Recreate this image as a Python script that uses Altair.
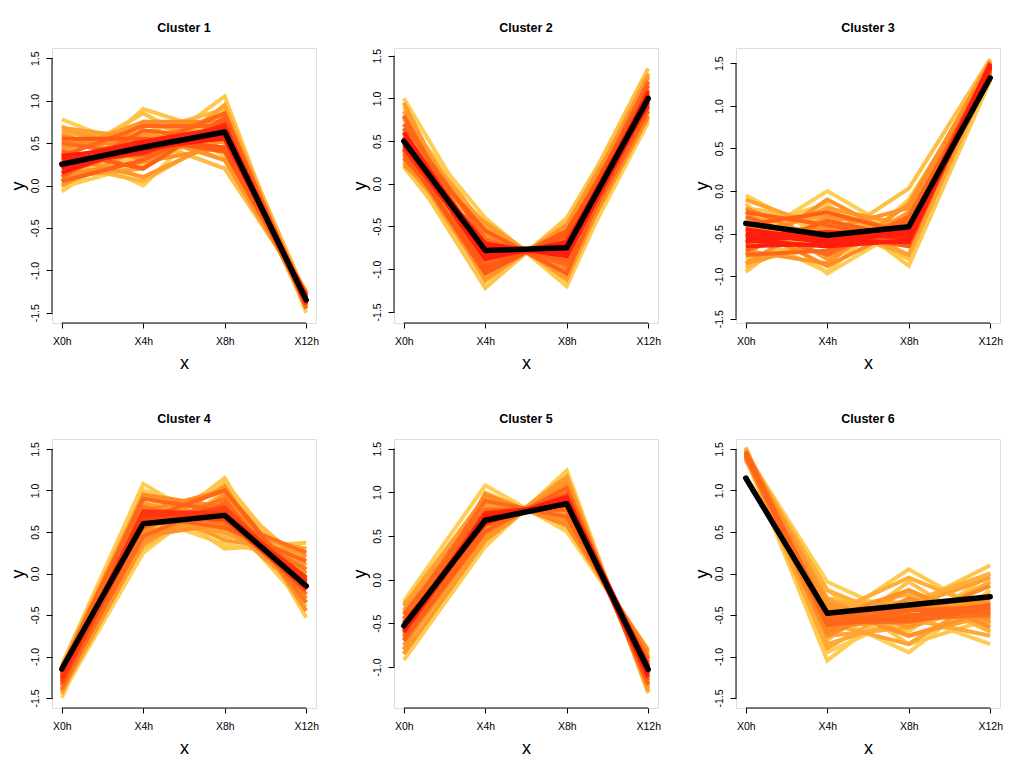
import altair as alt
import pandas as pd

FONT = "Liberation Sans"
times = ["X0h", "X4h", "X8h", "X12h"]

# ---- Cluster 1 ----
c1_profiles = [
    [0.78, 0.40, 0.55, -1.30], [0.70, 0.20, 0.75, -1.40], [-0.07, 0.55, 0.45, -1.25],
    [0.05, 0.90, 0.60, -1.45], [0.30, 0.85, 0.35, -1.30], [0.45, 0.00, 0.95, -1.35],
    [0.15, 0.35, 1.05, -1.50], [0.55, 0.55, 0.20, -1.25], [-0.02, 0.25, 0.85, -1.40],
    [0.60, 0.62, 0.90, -1.30], [0.25, 0.05, 0.60, -1.35],
    [0.65, 0.45, 0.65, -1.28], [0.00, 0.45, 0.70, -1.42], [0.40, 0.75, 0.50, -1.33],
    [0.60, 0.30, 0.70, -1.30], [0.10, 0.20, 0.95, -1.45], [0.45, 0.60, 0.30, -1.27],
    [0.05, 0.75, 0.75, -1.40], [0.35, 0.10, 0.55, -1.32], [0.50, 0.50, 0.85, -1.38],
    [0.20, 0.65, 0.30, -1.30], [0.68, 0.55, 0.40, -1.26], [0.12, 0.28, 0.45, -1.36],
    [0.50, 0.35, 0.60, -1.32], [0.10, 0.65, 0.55, -1.40], [0.40, 0.20, 0.80, -1.35],
    [0.20, 0.55, 0.40, -1.28], [0.35, 0.70, 0.70, -1.42], [0.05, 0.30, 0.75, -1.38],
    [0.55, 0.55, 0.45, -1.30], [0.15, 0.45, 0.85, -1.45],
    [0.30, 0.40, 0.65, -1.35], [0.20, 0.50, 0.60, -1.33], [0.35, 0.45, 0.55, -1.30],
    [0.25, 0.38, 0.72, -1.40], [0.15, 0.48, 0.62, -1.36], [0.32, 0.52, 0.68, -1.34],
    [0.22, 0.42, 0.58, -1.32],
]
c1_mem = [0.30, 0.32, 0.31, 0.33, 0.34, 0.30, 0.32, 0.35, 0.31, 0.36, 0.37,
          0.42, 0.44, 0.43, 0.46, 0.41, 0.45, 0.47, 0.44, 0.48, 0.43, 0.42, 0.46,
          0.55, 0.58, 0.60, 0.62, 0.56, 0.59, 0.63, 0.57,
          0.78, 0.82, 0.80, 0.76, 0.84, 0.79, 0.86]
c1_centroid = [0.25, 0.45, 0.63, -1.35]

# ---- Cluster 2 ----
c2_profiles = [
    [1.00, -0.60, -1.00, 1.10], [0.20, -1.00, -0.55, 0.75], [0.75, -0.40, -1.20, 0.90],
    [0.30, -1.22, -0.40, 1.20], [0.90, -1.10, -0.50, 1.35], [0.25, -0.50, -1.10, 0.72],
    [0.60, -1.15, -0.45, 0.80], [0.45, -0.45, -1.15, 1.30],
    [0.85, -0.70, -0.90, 1.25], [0.25, -0.85, -0.75, 0.80], [0.95, -0.95, -0.62, 1.28],
    [0.22, -0.60, -0.98, 0.78], [0.70, -0.50, -1.10, 1.00], [0.38, -1.12, -0.48, 1.15],
    [0.58, -0.58, -1.00, 0.85], [0.40, -0.98, -0.58, 1.25], [0.78, -1.05, -0.55, 0.95],
    [0.28, -0.45, -1.12, 1.02], [0.62, -0.92, -0.66, 1.18], [0.33, -0.68, -0.92, 0.88],
    [0.70, -0.65, -0.95, 1.05], [0.35, -0.95, -0.65, 0.90], [0.55, -0.55, -1.05, 1.15],
    [0.40, -1.05, -0.55, 0.95], [0.80, -0.90, -0.70, 1.20], [0.30, -0.70, -0.90, 0.85],
    [0.65, -1.00, -0.60, 1.10],
    [0.50, -0.75, -0.80, 1.00], [0.55, -0.85, -0.70, 1.05], [0.45, -0.70, -0.85, 0.95],
    [0.60, -0.80, -0.78, 1.02], [0.42, -0.82, -0.72, 0.98], [0.52, -0.72, -0.82, 1.08],
    [0.48, -0.88, -0.68, 0.92],
]
c2_mem = [0.30, 0.32, 0.31, 0.33, 0.34, 0.30, 0.35, 0.32,
          0.42, 0.44, 0.43, 0.46, 0.41, 0.45, 0.47, 0.44, 0.48, 0.43, 0.42, 0.46,
          0.55, 0.58, 0.60, 0.62, 0.56, 0.59, 0.63,
          0.80, 0.78, 0.82, 0.85, 0.76, 0.79, 0.83]
c2_centroid = [0.50, -0.78, -0.75, 1.00]

# ---- Cluster 3 ----
c3_profiles = [
    [-0.05, -0.55, -0.30, 1.45], [-0.15, -0.97, -0.40, 1.40], [-0.95, -0.20, -0.50, 1.35],
    [-0.60, 0.00, -0.55, 1.50], [-0.45, -0.15, -0.88, 1.30], [-0.80, -0.60, 0.03, 1.55],
    [-0.50, -0.95, -0.10, 1.40], [-0.90, -0.45, -0.35, 1.45], [-0.20, -0.35, -0.80, 1.35],
    [-0.10, -0.45, -0.40, 1.42], [-0.85, -0.30, -0.45, 1.40], [-0.25, -0.80, -0.25, 1.47],
    [-0.75, -0.10, -0.60, 1.52], [-0.35, -0.30, -0.75, 1.38], [-0.70, -0.85, -0.15, 1.50],
    [-0.20, -0.60, -0.55, 1.44], [-0.85, -0.60, -0.50, 1.46], [-0.40, -0.88, -0.40, 1.43],
    [-0.55, -0.20, -0.40, 1.48], [-0.65, -0.40, -0.75, 1.41], [-0.45, -0.45, -0.20, 1.53],
    [-0.30, -0.65, -0.45, 1.45], [-0.70, -0.35, -0.55, 1.48], [-0.45, -0.75, -0.30, 1.42],
    [-0.60, -0.50, -0.65, 1.50], [-0.25, -0.40, -0.60, 1.40], [-0.75, -0.70, -0.35, 1.47],
    [-0.40, -0.25, -0.50, 1.44],
    [-0.55, -0.55, -0.50, 1.47], [-0.50, -0.60, -0.45, 1.45], [-0.60, -0.50, -0.55, 1.48],
    [-0.45, -0.58, -0.60, 1.46], [-0.65, -0.62, -0.48, 1.49], [-0.52, -0.48, -0.52, 1.44],
    [-0.58, -0.65, -0.58, 1.50],
]
c3_mem = [0.30, 0.31, 0.33, 0.30, 0.32, 0.34, 0.31, 0.35, 0.33,
          0.42, 0.44, 0.43, 0.46, 0.41, 0.45, 0.47, 0.44, 0.48, 0.43, 0.42, 0.46,
          0.56, 0.59, 0.55, 0.62, 0.58, 0.57, 0.60,
          0.80, 0.84, 0.78, 0.82, 0.86, 0.79, 0.88]
c3_centroid = [-0.38, -0.52, -0.42, 1.33]

# ---- Cluster 4 ----
c4_profiles = [
    [-1.10, 1.08, 0.50, 0.00], [-1.45, 0.25, 1.00, -0.30], [-1.30, 0.95, 0.30, 0.37],
    [-1.20, 0.40, 1.15, -0.53], [-1.50, 0.70, 0.35, 0.20], [-1.15, 0.30, 0.95, 0.10],
    [-1.40, 1.00, 0.70, -0.40], [-1.25, 0.55, 1.10, -0.10], [-1.35, 0.85, 0.45, 0.30],
    [-1.12, 0.95, 0.55, 0.10], [-1.42, 0.35, 0.95, -0.35], [-1.18, 0.85, 0.40, 0.25],
    [-1.38, 0.50, 1.05, -0.45], [-1.45, 0.80, 0.50, 0.30], [-1.18, 0.40, 0.80, 0.00],
    [-1.35, 0.95, 0.80, -0.30], [-1.22, 0.50, 0.70, 0.20], [-1.30, 0.75, 1.00, -0.15],
    [-1.40, 0.85, 0.60, -0.25], [-1.16, 0.62, 0.50, 0.05], [-1.33, 0.45, 0.60, -0.05],
    [-1.20, 0.80, 0.60, 0.05], [-1.35, 0.45, 0.85, -0.25], [-1.25, 0.70, 0.55, 0.15],
    [-1.30, 0.55, 0.90, -0.35], [-1.15, 0.90, 0.75, -0.05], [-1.40, 0.60, 0.65, 0.25],
    [-1.28, 0.65, 1.00, -0.20],
    [-1.25, 0.65, 0.75, -0.10], [-1.22, 0.72, 0.70, -0.05], [-1.30, 0.60, 0.80, -0.15],
    [-1.20, 0.68, 0.68, -0.20], [-1.27, 0.75, 0.72, -0.08], [-1.24, 0.62, 0.78, -0.12],
    [-1.32, 0.70, 0.65, -0.18],
]
c4_mem = [0.31, 0.30, 0.33, 0.32, 0.30, 0.34, 0.31, 0.33, 0.35,
          0.42, 0.44, 0.43, 0.46, 0.41, 0.45, 0.47, 0.44, 0.48, 0.43, 0.42, 0.46,
          0.52, 0.55, 0.57, 0.53, 0.56, 0.54, 0.58,
          0.70, 0.74, 0.68, 0.72, 0.76, 0.71, 0.69]
c4_centroid = [-1.15, 0.60, 0.70, -0.15]

# ---- Cluster 5 ----
c5_profiles = [
    [-0.25, 1.08, 0.55, -0.80], [-0.92, 0.38, 1.25, -1.30], [-0.40, 0.95, 0.65, -0.90],
    [-0.80, 0.45, 1.15, -1.25], [-0.30, 0.50, 1.10, -1.20], [-0.85, 1.00, 0.60, -0.85],
    [-0.55, 0.60, 1.00, -1.10], [-0.65, 0.85, 0.78, -0.95],
    [-0.30, 0.95, 0.65, -0.85], [-0.85, 0.45, 1.15, -1.25], [-0.35, 0.88, 0.72, -0.88],
    [-0.75, 0.52, 1.10, -1.22], [-0.28, 0.60, 1.02, -1.15], [-0.80, 0.92, 0.68, -0.90],
    [-0.45, 0.55, 1.05, -1.18], [-0.70, 0.82, 0.80, -0.92], [-0.62, 0.98, 0.62, -0.82],
    [-0.38, 0.48, 1.18, -1.28], [-0.48, 0.85, 0.75, -0.95], [-0.68, 0.65, 0.98, -1.05],
    [-0.40, 0.80, 0.80, -0.95], [-0.70, 0.55, 1.05, -1.15], [-0.45, 0.90, 0.72, -0.90],
    [-0.60, 0.62, 0.98, -1.20], [-0.50, 0.75, 0.85, -1.00], [-0.65, 0.70, 0.92, -1.10],
    [-0.55, 0.72, 0.88, -1.05], [-0.52, 0.68, 0.92, -1.00], [-0.58, 0.76, 0.85, -1.08],
    [-0.50, 0.65, 0.95, -1.02], [-0.60, 0.70, 0.90, -1.12], [-0.54, 0.74, 0.86, -0.98],
]
c5_mem = [0.30, 0.31, 0.33, 0.32, 0.34, 0.30, 0.36, 0.35,
          0.42, 0.44, 0.43, 0.46, 0.41, 0.45, 0.47, 0.44, 0.48, 0.43, 0.42, 0.46,
          0.56, 0.59, 0.55, 0.62, 0.58, 0.57,
          0.80, 0.84, 0.78, 0.82, 0.86, 0.79]
c5_centroid = [-0.53, 0.68, 0.87, -1.03]

# ---- Cluster 6 ----
c6_profiles = [
    [1.45, -0.10, -0.55, -0.40], [1.40, -1.05, -0.30, -0.60], [1.50, -0.60, 0.05, -0.50],
    [1.38, -0.50, -0.95, -0.20], [1.48, -0.30, -0.40, 0.10], [1.42, -0.95, -0.50, -0.85],
    [1.52, -0.80, -0.10, -0.70], [1.36, -0.45, -0.70, 0.00], [1.46, -0.20, -0.85, -0.55],
    [1.44, -0.20, -0.60, -0.35], [1.41, -0.90, -0.35, -0.55], [1.49, -0.50, -0.05, -0.45],
    [1.39, -0.60, -0.85, -0.25], [1.47, -0.35, -0.35, 0.00], [1.43, -0.85, -0.55, -0.75],
    [1.50, -0.70, -0.20, -0.60], [1.37, -0.40, -0.60, -0.10], [1.45, -0.30, -0.75, -0.50],
    [1.46, -0.75, -0.65, -0.35], [1.40, -0.45, -0.25, -0.70], [1.48, -0.65, -0.40, -0.05],
    [1.45, -0.45, -0.45, -0.35], [1.42, -0.75, -0.30, -0.55], [1.48, -0.35, -0.65, -0.25],
    [1.40, -0.65, -0.55, -0.15], [1.44, -0.55, -0.20, -0.65], [1.47, -0.40, -0.75, -0.45],
    [1.41, -0.70, -0.40, -0.30],
    [1.44, -0.55, -0.50, -0.45], [1.46, -0.60, -0.45, -0.40], [1.43, -0.50, -0.55, -0.50],
    [1.45, -0.62, -0.52, -0.38], [1.47, -0.52, -0.42, -0.48], [1.42, -0.58, -0.58, -0.42],
]
c6_mem = [0.30, 0.31, 0.32, 0.30, 0.33, 0.31, 0.34, 0.32, 0.33,
          0.38, 0.40, 0.39, 0.41, 0.38, 0.40, 0.42, 0.39, 0.41, 0.40, 0.38, 0.42,
          0.45, 0.47, 0.44, 0.48, 0.46, 0.45, 0.49,
          0.54, 0.56, 0.53, 0.57, 0.55, 0.56]
c6_centroid = [1.15, -0.48, -0.38, -0.28]

TICKS = [-1.5, -1.0, -0.5, 0.0, 0.5, 1.0, 1.5]
clusters = [
    ("Cluster 1", c1_profiles, c1_mem, c1_centroid, [-1.62, 1.62], TICKS),
    ("Cluster 2", c2_profiles, c2_mem, c2_centroid, [-1.63, 1.59], TICKS),
    ("Cluster 3", c3_profiles, c3_mem, c3_centroid, [-1.55, 1.68], TICKS),
    ("Cluster 4", c4_profiles, c4_mem, c4_centroid, [-1.62, 1.62], TICKS),
    ("Cluster 5", c5_profiles, c5_mem, c5_centroid, [-1.47, 1.61], TICKS[1:]),
    ("Cluster 6", c6_profiles, c6_mem, c6_centroid, [-1.62, 1.62], TICKS),
]

W = 264
HEIGHTS = [275, 275, 275, 269, 269, 269]
color_scale = alt.Scale(domain=[0.3, 0.42, 0.55, 0.8],
                        range=["#FFCF55", "#FFA030", "#FF6A1C", "#FF1E0E"], clamp=True)


def panel(idx, name, profiles, mem, centroid, ydom, yticks):
    h = HEIGHTS[idx]
    rows = []
    for g, (prof, m) in enumerate(zip(profiles, mem)):
        for t, v in enumerate(prof):
            rows.append({"g": g, "t": t, "v": v, "m": m})
    df = pd.DataFrame(rows).sort_values(["m", "g", "t"]).reset_index(drop=True)
    cdf = pd.DataFrame({"t": [0, 1, 2, 3], "v": centroid})

    xscale = alt.Scale(domain=[-0.12, 3.12], nice=False, zero=False)
    yscale = alt.Scale(domain=ydom, nice=False, zero=False)
    xaxis = alt.Axis(values=[0, 1, 2, 3], labelExpr="['X0h','X4h','X8h','X12h'][datum.value]",
                     domain=False, grid=False, tickSize=5, tickColor="black", labelPadding=8,
                     labelFont=FONT, labelFontSize=10.5, labelColor="black",
                     title="x", titleFont=FONT, titleFontSize=18, titleFontWeight="normal",
                     titleColor="black", titleX=W / 2, titleY=45, titleBaseline="alphabetic",
                     titleAlign="center")
    yaxis = alt.Axis(values=yticks, labelExpr="replace(format(datum.value, '.1f'), '\u2212', '-')",
                     domain=False, grid=False, tickSize=6, tickColor="black", labelPadding=6,
                     labelAngle=-90, labelAlign="center", labelBaseline="bottom",
                     labelFont=FONT, labelFontSize=10.5, labelColor="black",
                     title="y", titleFont=FONT, titleFontSize=18, titleFontWeight="normal",
                     titleColor="black", titleX=-29, titleY=h / 2, titleAngle=-90,
                     titleBaseline="alphabetic", titleAlign="center")

    lines = alt.Chart(df).mark_line(strokeWidth=4).encode(
        x=alt.X("t:Q", scale=xscale, axis=xaxis),
        y=alt.Y("v:Q", scale=yscale, axis=yaxis),
        color=alt.Color("m:Q", scale=color_scale, legend=None),
        detail="g:N",
        order="t:Q",
    )
    cent = alt.Chart(cdf).mark_line(strokeWidth=5.5, color="black", strokeCap="round",
                                    strokeJoin="round").encode(
        x=alt.X("t:Q", scale=xscale), y=alt.Y("v:Q", scale=yscale))
    one = pd.DataFrame({"a": [0]})
    yrule = alt.Chart(one).mark_rule(color="black", strokeWidth=1).encode(
        x=alt.value(0), y=alt.datum(yticks[0]), y2=alt.datum(yticks[-1]))
    xrule = alt.Chart(one).mark_rule(color="black", strokeWidth=1).encode(
        y=alt.value(h), x=alt.datum(0), x2=alt.datum(3))
    return alt.layer(lines, cent, yrule, xrule).properties(
        width=W, height=h,
        title=alt.TitleParams(name, font=FONT, fontSize=12.5, fontWeight="bold",
                              color="black", anchor="middle", offset=1, baseline="bottom"),
    )


panels = [panel(i, *c) for i, c in enumerate(clusters)]
chart = alt.concat(*panels, columns=3, spacing={"row": 116, "column": 78}, bounds="flush").properties(
    padding={"top": 13, "left": 0, "right": 5, "bottom": 5}
).configure_view(stroke=None).configure(background="white")

chart.save("out.html", embed_options={"renderer": "svg", "actions": False})
